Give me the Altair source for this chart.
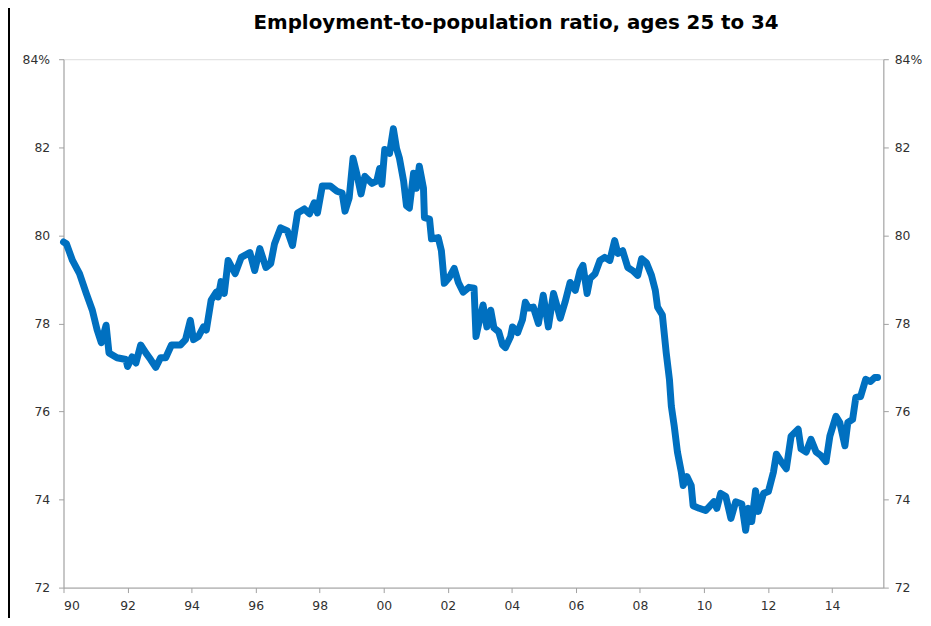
import altair as alt
import pandas as pd

# decimal year and employment-to-population ratio (%)
years = [
    1990.00, 1990.09, 1990.28, 1990.50, 1990.71, 1990.90, 1991.05, 1991.18, 1991.33, 1991.42,
    1991.67, 1991.95, 1992.00, 1992.14, 1992.26, 1992.41, 1992.57, 1992.72, 1992.88, 1993.03,
    1993.19, 1993.37, 1993.65, 1993.81, 1993.96, 1994.06, 1994.21, 1994.37, 1994.46, 1994.61,
    1994.77, 1994.83, 1994.92, 1995.02, 1995.14, 1995.36, 1995.55, 1995.82, 1995.97, 1996.13,
    1996.32, 1996.47, 1996.59, 1996.78, 1996.99, 1997.15, 1997.31, 1997.52, 1997.68, 1997.83,
    1997.93, 1998.08, 1998.33, 1998.54, 1998.70, 1998.79, 1998.92, 1999.04, 1999.16, 1999.29,
    1999.41, 1999.63, 1999.78, 1999.87, 1999.94, 2000.03, 2000.18, 2000.30, 2000.40, 2000.49,
    2000.62, 2000.71, 2000.80, 2000.93, 2001.02, 2001.11, 2001.24, 2001.27, 2001.43, 2001.49,
    2001.70, 2001.80, 2001.89, 2002.05, 2002.20, 2002.33, 2002.48, 2002.66, 2002.82, 2002.88,
    2002.97, 2003.10, 2003.22, 2003.34, 2003.44, 2003.59, 2003.71, 2003.80, 2003.96, 2004.02,
    2004.18, 2004.33, 2004.42, 2004.52, 2004.67, 2004.83, 2004.98, 2005.14, 2005.30, 2005.42,
    2005.51, 2005.66, 2005.82, 2005.98, 2006.13, 2006.22, 2006.35, 2006.44, 2006.60, 2006.75,
    2006.90, 2007.06, 2007.21, 2007.31, 2007.46, 2007.62, 2007.77, 2007.93, 2008.05, 2008.20,
    2008.36, 2008.48, 2008.55, 2008.70, 2008.82, 2008.92, 2008.98, 2009.07, 2009.17, 2009.29,
    2009.35, 2009.47, 2009.60, 2009.66, 2009.85, 2010.05, 2010.31, 2010.40, 2010.52, 2010.68,
    2010.84, 2010.99, 2011.18, 2011.30, 2011.39, 2011.49, 2011.61, 2011.70, 2011.86, 2012.01,
    2012.17, 2012.26, 2012.41, 2012.57, 2012.72, 2012.94, 2013.03, 2013.19, 2013.34, 2013.50,
    2013.65, 2013.81, 2013.93, 2014.12, 2014.24, 2014.40, 2014.49, 2014.64, 2014.74, 2014.89,
    2015.05, 2015.20, 2015.33, 2015.42,
]
ratio = [
    79.85, 79.81, 79.43, 79.13, 78.68, 78.30, 77.85, 77.56, 77.96, 77.33,
    77.22, 77.18, 77.02, 77.24, 77.10, 77.51, 77.33, 77.18, 77.00, 77.22,
    77.22, 77.51, 77.51, 77.63, 78.07, 77.63, 77.70, 77.92, 77.85, 78.53,
    78.71, 78.60, 78.95, 78.68, 79.43, 79.13, 79.50, 79.61, 79.20, 79.70,
    79.27, 79.36, 79.81, 80.17, 80.10, 79.77, 80.51, 80.60, 80.49, 80.74,
    80.51, 81.12, 81.12, 81.00, 80.96, 80.55, 80.85, 81.75, 81.39, 80.94,
    81.34, 81.18, 81.23, 81.52, 81.16, 81.95, 81.86, 82.42, 81.97, 81.75,
    81.23, 80.67, 80.62, 81.41, 81.07, 81.57, 81.07, 80.40, 80.37, 79.92,
    79.95, 79.65, 78.91, 79.05, 79.25, 78.93, 78.71, 78.82, 78.80, 77.70,
    78.01, 78.42, 77.92, 78.30, 77.90, 77.81, 77.51, 77.45, 77.70, 77.92,
    77.79, 78.08, 78.48, 78.35, 78.37, 78.00, 78.64, 77.92, 78.68, 78.37,
    78.12, 78.48, 78.93, 78.75, 79.20, 79.32, 78.68, 79.02, 79.13, 79.43,
    79.50, 79.43, 79.88, 79.59, 79.65, 79.27, 79.20, 79.09, 79.47, 79.38,
    79.09, 78.75, 78.37, 78.19, 77.33, 76.73, 76.12, 75.67, 75.08, 74.63,
    74.32, 74.52, 74.32, 73.86, 73.80, 73.75, 73.95, 73.80, 74.14, 74.07,
    73.57, 73.95, 73.90, 73.30, 73.80, 73.50, 74.20, 73.73, 74.14, 74.18,
    74.63, 75.03, 74.86, 74.70, 75.44, 75.60, 75.15, 75.08, 75.37, 75.08,
    75.00, 74.86, 75.44, 75.89, 75.75, 75.22, 75.75, 75.82, 76.32, 76.34,
    76.73, 76.68, 76.77, 76.77,
]
x_ticks = [1990, 1992, 1994, 1996, 1998, 2000, 2002, 2004, 2006, 2008, 2010, 2012, 2014]
y_ticks = [72, 74, 76, 78, 80, 82, 84]
title_text = "Employment-to-population ratio, ages 25 to 34"

df = pd.DataFrame({"year": years, "ratio": ratio})

FONT = "DejaVu Sans"
AX_GRAY = "#a0a0a0"
LABEL_COLOR = "#303030"

x_enc = alt.X(
    "year:Q",
    scale=alt.Scale(domain=[1990, 2015.6], nice=False, zero=False),
    axis=alt.Axis(
        values=x_ticks, format="d", labelExpr="slice(datum.label, 2)",
        title=None, grid=False, tickSize=5, labelPadding=7,
        domainColor=AX_GRAY, tickColor=AX_GRAY, labelColor=LABEL_COLOR,
        labelFont=FONT, labelFontSize=12.5,
    ),
)

y_scale = alt.Scale(domain=[72, 84], nice=False, zero=False)

def y_axis(orient, pad):
    return alt.Axis(
        orient=orient, values=y_ticks,
        labelExpr="datum.value == 84 ? '84%' : datum.label",
        title=None, grid=False, tickSize=5, labelPadding=pad,
        domainColor=AX_GRAY, tickColor=AX_GRAY, labelColor=LABEL_COLOR,
        labelFont=FONT, labelFontSize=12.5,
    )

line = alt.Chart(df).mark_line(
    color="#0070C0", strokeWidth=7, strokeCap="round", strokeJoin="round"
).encode(
    x=x_enc,
    y=alt.Y("ratio:Q", scale=y_scale, axis=y_axis("left", 9)),
)

right = alt.Chart(df).mark_line(opacity=0).encode(
    x=x_enc,
    y=alt.Y("ratio:Q", scale=y_scale, axis=y_axis("right", 6)),
)

# left frame line of the original screenshot
frame_left = alt.Chart(df).mark_rule(color="#000000", strokeWidth=3, clip=False).encode(
    x=alt.value(-56), y=alt.value(-57), y2=alt.value(570)
)

chart = alt.layer(line, right, frame_left).resolve_scale(
    y="independent"
).properties(
    width=827,
    height=533,
    autosize=alt.AutoSizeParams(type="none"),
    padding={"left": 56, "top": 49, "right": 40, "bottom": 28},
    title=alt.TitleParams(
        title_text, anchor="middle", dx=43, offset=-32,
        font=FONT, fontSize=20, fontWeight="bold", color="#000000",
    ),
).configure_view(stroke=AX_GRAY, strokeWidth=1).configure(background="#ffffff")

chart.save("out.html", embed_options={"renderer": "svg", "actions": False})
